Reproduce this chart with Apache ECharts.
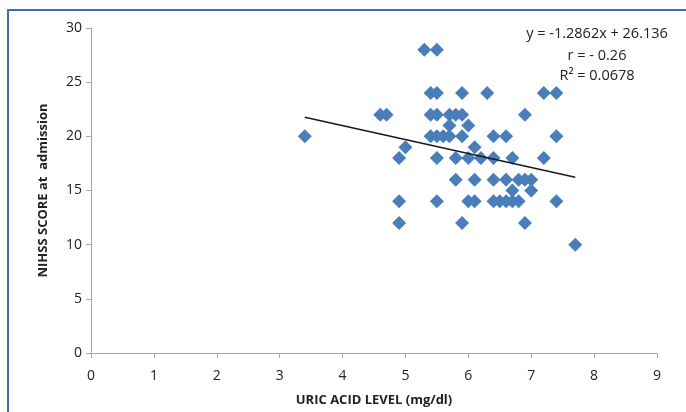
<!DOCTYPE html>
<html>
<head>
<meta charset="utf-8">
<script src="https://cdn.jsdelivr.net/npm/echarts@6/dist/echarts.min.js"></script>
<style>html,body{margin:0;padding:0;background:#fff;overflow:hidden}#c{width:686px;height:412px}</style>
</head>
<body>
<div id="c"></div>
<script>
var uricAcid = [3.4,4.6,4.7,4.9,4.9,4.9,5.0,5.3,5.5,5.4,5.5,5.9,6.3,7.2,7.4,5.4,5.5,5.7,5.8,5.9,6.9,5.7,6.0,5.4,5.5,5.6,5.7,5.9,6.4,6.6,7.4,6.1,5.5,5.8,6.0,6.2,6.4,6.7,7.2,5.8,6.1,6.4,6.6,6.8,6.9,7.0,6.7,7.0,5.5,6.0,6.1,6.4,6.5,6.6,6.7,6.8,7.4,5.9,6.9,7.7];
var nihss    = [20,22,22,18,14,12,19,28,28,24,24,24,24,24,24,22,22,22,22,22,22,21,21,20,20,20,20,20,20,20,20,19,18,18,18,18,18,18,18,16,16,16,16,16,16,16,15,15,14,14,14,14,14,14,14,14,14,12,12,10];
var trendSlope = [-1.2862];
var trendIntercept = [26.136];
var annotationLines = ['y = -1.2862x + 26.136', 'r = - 0.26', 'R\u00B2 = 0.0678'];
var xTicks = [0,1,2,3,4,5,6,7,8,9];
var yTicks = [0,5,10,15,20,25,30];

var points = uricAcid.map(function(x,i){return [x, nihss[i]];});
var xmin = Math.min.apply(null, uricAcid), xmax = Math.max.apply(null, uricAcid);
var trend = [[xmin, trendSlope[0]*xmin + trendIntercept[0]], [xmax, trendSlope[0]*xmax + trendIntercept[0]]];

var font = 'Open Sans';
var chart = echarts.init(document.getElementById('c'));
chart.setOption({
  animation: false,
  backgroundColor: '#fff',
  grid: {left: 91, right: 29, top: 28, bottom: 59, outerBoundsMode: 'none', containLabel: false},
  xAxis: {
    type: 'value', min: 0, max: 9, interval: 1,
    name: 'URIC ACID LEVEL (mg/dl)', nameLocation: 'middle', nameGap: 41,
    nameTextStyle: {fontFamily: font, fontWeight: 'bold', fontSize: 13, color: '#222'},
    axisLine: {lineStyle: {color: '#a6a6a6', width: 1}},
    axisTick: {show: true, length: 5, lineStyle: {color: '#a6a6a6'}},
    axisLabel: {fontFamily: font, fontSize: 14, color: '#222', margin: 16},
    splitLine: {show: false}
  },
  yAxis: {
    type: 'value', min: 0, max: 30, interval: 5,
    name: 'NIHSS SCORE at  admission', nameLocation: 'middle', nameGap: 41.5,
    nameTextStyle: {fontFamily: font, fontWeight: 'bold', fontSize: 13, color: '#222'},
    axisLine: {show: true, lineStyle: {color: '#a6a6a6', width: 1}},
    axisTick: {show: true, length: 5, lineStyle: {color: '#a6a6a6'}},
    axisLabel: {fontFamily: font, fontSize: 14, color: '#222', margin: 9},
    splitLine: {show: false}
  },
  series: [
    {type: 'scatter', data: points, symbol: 'diamond', symbolSize: 14,
     itemStyle: {color: '#4a7ebb', opacity: 1}, z: 2},
    {type: 'line', data: trend, symbol: 'none', lineStyle: {color: '#1a1a1a', width: 1.5}, z: 3}
  ],
  graphic: [
    {type: 'rect', shape: {x: 8, y: 10, width: 1000, height: 1000}, style: {fill: 'none', stroke: '#3d6eb4', lineWidth: 2}, silent: true},
    {type: 'text', x: 597, y: 26, style: {text: annotationLines[0], textAlign: 'center', fontFamily: font, fontSize: 14.5, fill: '#222'}},
    {type: 'text', x: 597, y: 48, style: {text: annotationLines[1], textAlign: 'center', fontFamily: font, fontSize: 14.5, fill: '#222'}},
    {type: 'text', x: 597, y: 68, style: {text: annotationLines[2], textAlign: 'center', fontFamily: font, fontSize: 14.5, fill: '#222'}}
  ]
});
</script>
</body>
</html>
